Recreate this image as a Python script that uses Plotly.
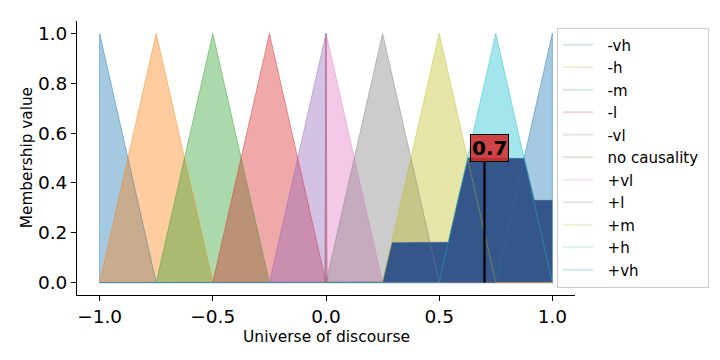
import numpy as np
import plotly.graph_objects as go

# ---- data ----
terms = ["-vh", "-h", "-m", "-l", "-vl", "no causality", "+vl", "+l", "+m", "+h", "+vh"]
tri_a = [-1.00, -1.00, -0.75, -0.50, -0.25, -0.005, 0.00, 0.00, 0.25, 0.50, 0.75]
tri_b = [-1.00, -0.75, -0.50, -0.25, 0.00, 0.00, 0.00, 0.25, 0.50, 0.75, 1.00]
tri_c = [-0.75, -0.50, -0.25, 0.00, 0.00, 0.005, 0.25, 0.50, 0.75, 1.00, 1.00]
term_colors = ["#1f77b4", "#ff7f0e", "#2ca02c", "#d62728", "#9467bd", "#8c564b",
               "#e377c2", "#7f7f7f", "#bcbd22", "#17becf", "#1f77b4"]
# activation (clip) levels of the fired output terms
activated_terms = ["+m", "+h", "+vh"]
activation_levels = [0.16, 0.50, 0.33]
crisp_value = 0.7
x_ticks = [-1.0, -0.5, 0.0, 0.5, 1.0]
y_ticks = [0.0, 0.2, 0.4, 0.6, 0.8, 1.0]
x_title = "Universe of discourse"
y_title = "Membership value"


def rgba(hexc, a):
    h = hexc.lstrip("#")
    r, g, b = int(h[0:2], 16), int(h[2:4], 16), int(h[4:6], 16)
    return f"rgba({r},{g},{b},{a})"


def trimf(x, a, b, c):
    y = np.zeros_like(x)
    if b > a:
        m = (x >= a) & (x <= b)
        y[m] = (x[m] - a) / (b - a)
    if c > b:
        m = (x >= b) & (x <= c)
        y[m] = (c - x[m]) / (c - b)
    y[np.isclose(x, b)] = 1.0
    return y


universe = np.linspace(-1, 1, 4001)

fig = go.Figure()

# filled membership functions
for name, a, b, c, col in zip(terms, tri_a, tri_b, tri_c, term_colors):
    fig.add_trace(go.Scatter(
        x=[a, b, c, a], y=[0, 1, 0, 0], mode="lines", fill="toself",
        fillcolor=rgba(col, 0.4), line=dict(color=rgba(col, 0.0), width=0),
        showlegend=False, hoverinfo="skip"))

# aggregated output
agg = np.zeros_like(universe)
for t, lvl in zip(activated_terms, activation_levels):
    i = terms.index(t)
    agg = np.maximum(agg, np.minimum(trimf(universe, tri_a[i], tri_b[i], tri_c[i]), lvl))
fig.add_trace(go.Scatter(
    x=universe, y=agg, mode="lines", fill="tozeroy",
    fillcolor="#34568b", line=dict(color="#34568b", width=0.5),
    showlegend=False, hoverinfo="skip"))

# outlines of membership functions (over whole universe)
for name, a, b, c, col in zip(terms, tri_a, tri_b, tri_c, term_colors):
    fig.add_trace(go.Scatter(
        x=[-1, a, b, c, 1], y=[0, 0, 1, 0, 0], mode="lines",
        line=dict(color=rgba(col, 0.45), width=1),
        showlegend=False, hoverinfo="skip"))

# legend entries
NB = "\u00a0"
for name, col in zip(terms, term_colors):
    fig.add_trace(go.Scatter(
        x=[None], y=[None], mode="lines", name=NB * 2 + name + NB,
        line=dict(color=rgba(col, 0.2), width=2)))

# crisp output line
crisp_height = float(np.interp(crisp_value, universe, agg))
fig.add_trace(go.Scatter(
    x=[crisp_value, crisp_value], y=[0, crisp_height],
    mode="lines", line=dict(color="black", width=2.2), showlegend=False, hoverinfo="skip"))

fig.add_annotation(
    x=crisp_value, y=crisp_height,
    xref="x", yref="y", text=f"<b>{crisp_value}</b>", showarrow=False,
    yanchor="bottom", xanchor="center", xshift=5, yshift=-4,
    font=dict(family="DejaVu Sans", size=20, color="black"),
    bgcolor="rgba(214,39,40,0.85)", bordercolor="black", borderwidth=1, borderpad=1)

# axis titles
fig.add_annotation(x=0.5, y=-0.155, xref="paper", yref="paper", text=x_title,
                   showarrow=False, xanchor="center", yanchor="middle",
                   font=dict(family="DejaVu Sans", size=15.5, color="black"))
fig.add_annotation(x=-0.1, y=0.5, xref="paper", yref="paper", text=y_title,
                   showarrow=False, xanchor="center", yanchor="middle", textangle=-90,
                   font=dict(family="DejaVu Sans", size=15.3, color="black"))

fig.update_layout(
    width=720, height=360,
    margin=dict(l=77, r=144, t=21, b=65),
    paper_bgcolor="white", plot_bgcolor="white",
    font=dict(family="DejaVu Sans", color="black"),
    showlegend=True,
    legend=dict(x=0.962, y=0.976, xanchor="left", yanchor="top",
                bgcolor="white", bordercolor="#cccccc", borderwidth=1,
                font=dict(size=15, family="DejaVu Sans")),
    xaxis=dict(range=[-1.1, 1.1], tickvals=x_ticks, tickformat=".1f",
               showline=True, linecolor="black", linewidth=1,
               ticks="outside", ticklen=5, tickcolor="black",
               showgrid=False, zeroline=False, automargin=False,
               tickfont=dict(size=18.5)),
    yaxis=dict(range=[-0.05, 1.05], tickvals=y_ticks, tickformat=".1f",
               showline=True, linecolor="black", linewidth=1,
               ticks="outside", ticklen=5, tickcolor="black",
               showgrid=False, zeroline=False, automargin=False,
               tickfont=dict(size=18.5)),
)

fig.write_html("out.html", config={"displayModeBar": False},
               post_script="document.body.style.margin='0';")
